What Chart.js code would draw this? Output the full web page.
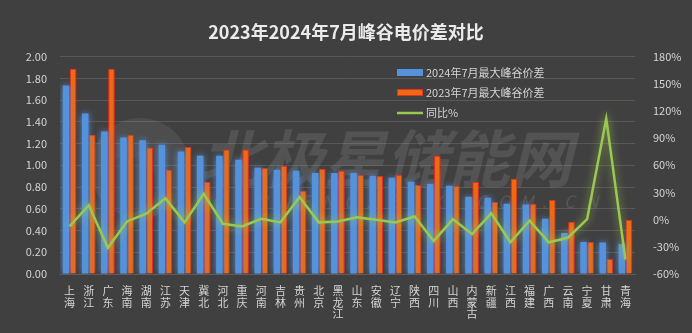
<!DOCTYPE html>
<html>
<head>
<meta charset="utf-8">
<script src="https://cdn.jsdelivr.net/npm/chart.js@4/dist/chart.umd.min.js"></script>
<style>
  html, body { margin: 0; padding: 0; background: #404040; }
  #wrap { width: 692px; height: 333px; }
</style>
</head>
<body>
<div id="wrap"><canvas id="chart" width="692" height="333"></canvas></div>
<script>
// provinces, in descending order of the 2024 spread
const provinces = ['上海', '浙江', '广东', '海南', '湖南', '江苏', '天津', '冀北', '河北', '重庆',
  '河南', '吉林', '贵州', '北京', '黑龙江', '山东', '安徽', '辽宁', '陕西', '四川',
  '山西', '内蒙古', '新疆', '江西', '福建', '广西', '云南', '宁夏', '甘肃', '青海'];

// max peak-valley spread, yuan/kWh
const spread2024 = [1.735, 1.477, 1.311, 1.255, 1.231, 1.19, 1.126, 1.089, 1.089, 1.052,
  0.978, 0.96, 0.951, 0.929, 0.929, 0.929, 0.905, 0.886, 0.849, 0.828,
  0.812, 0.711, 0.702, 0.646, 0.64, 0.508, 0.378, 0.295, 0.29, 0.277];
const spread2023 = [1.889, 1.28, 1.889, 1.28, 1.163, 0.96, 1.169, 0.846, 1.145, 1.145,
  0.975, 0.997, 0.766, 0.969, 0.951, 0.911, 0.902, 0.911, 0.818, 1.089,
  0.812, 0.846, 0.662, 0.877, 0.646, 0.68, 0.48, 0.295, 0.137, 0.498];

// year-on-year change, %
const yoyChange = [-7.5, 16, -31, -2, 6.5, 23.5, -3, 28.5, -4.5, -7.5,
  1, -3, 25, -3, -2, 2.5, 0, -3, 3.5, -23.5,
  0.5, -16, 7, -25, -1, -25, -20, 0.5, 111.5, -44];

const leftTicks = { min: 0, max: 2, step: 0.2 };
const rightTicks = { min: -60, max: 180, step: 30 };

const BLUE = '#5592dc';
const ORANGE = '#ee6a0f';
const GREEN = '#9bc850';
const TEXT = '#d4d4d4';
const FONT = "'Noto Sans CJK SC', 'Noto Sans', sans-serif";

// stack each province name vertically, one character per line
const labels = provinces.map(p => p.split(''));

const glow = {
  id: 'glow',
  beforeDatasetDraw(chart, args) {
    const ds = chart.data.datasets[args.index];
    const ctx = chart.ctx;
    ctx.save();
    ctx.shadowColor = ds.glowColor;
    ctx.shadowBlur = ds.glowBlur;
  },
  afterDatasetDraw(chart) {
    chart.ctx.restore();
  }
};

const watermark = {
  id: 'watermark',
  beforeDatasetsDraw(chart) {
    const ctx = chart.ctx;
    ctx.save();
    // round logo
    ctx.fillStyle = 'rgba(255,255,255,0.07)';
    ctx.beginPath();
    ctx.arc(140, 168, 50, 0, Math.PI * 2);
    ctx.fill();
    ctx.fillStyle = 'rgba(64,64,64,0.5)';
    ctx.beginPath();
    ctx.arc(128, 185, 28, 0, Math.PI * 2);
    ctx.fill();
    // site name
    ctx.fillStyle = 'rgba(255,255,255,0.10)';
    ctx.font = 'italic bold 62px ' + FONT;
    ctx.textBaseline = 'alphabetic';
    ctx.textAlign = 'left';
    ctx.fillText('北极星储能网', 200, 182);
    ctx.font = 'italic 17px ' + FONT;
    ctx.fillStyle = 'rgba(255,255,255,0.11)';
    const url = 'CHUNENG.BJX.COM.CN';
    let x = 212;
    for (const ch of url) {
      ctx.fillText(ch, x, 208);
      x += 22;
    }
    ctx.restore();
  }
};

const legendBox = {
  id: 'legendBox',
  afterDraw(chart) {
    const ctx = chart.ctx;
    const x0 = 397, rows = [72.5, 92.5, 113];
    ctx.save();
    ctx.font = '11px ' + FONT;
    ctx.fillStyle = TEXT;
    ctx.textBaseline = 'middle';
    chart.data.datasets.forEach((ds, i) => {
      const y = rows[i];
      if (ds.type === 'line') {
        ctx.strokeStyle = ds.borderColor;
        ctx.lineWidth = 2.5;
        ctx.beginPath();
        ctx.moveTo(x0, y);
        ctx.lineTo(x0 + 26, y);
        ctx.stroke();
      } else {
        ctx.fillStyle = ds.backgroundColor;
        ctx.fillRect(x0, y - 3.5, 26, 7);
        if (ds.borderColor && ds.borderWidth) {
          ctx.strokeStyle = ds.borderColor;
          ctx.lineWidth = 1;
          ctx.strokeRect(x0 + 0.5, y - 3, 25, 6);
        }
      }
      ctx.fillStyle = TEXT;
      ctx.fillText(ds.label, x0 + 29, y);
    });
    ctx.restore();
  }
};

new Chart(document.getElementById('chart'), {
  data: {
    labels: labels,
    datasets: [
      {
        type: 'bar',
        label: '2024年7月最大峰谷价差',
        data: spread2024,
        backgroundColor: BLUE,
        glowColor: 'rgba(90,150,230,0.9)',
        glowBlur: 6,
        yAxisID: 'y',
        order: 2,
        categoryPercentage: 0.74,
        barPercentage: 0.92
      },
      {
        type: 'bar',
        label: '2023年7月最大峰谷价差',
        data: spread2023,
        backgroundColor: ORANGE,
        borderColor: '#e0302a',
        borderWidth: 1,
        glowColor: 'rgba(235,40,30,0.9)',
        glowBlur: 6,
        yAxisID: 'y',
        order: 2,
        categoryPercentage: 0.74,
        barPercentage: 0.92
      },
      {
        type: 'line',
        label: '同比%',
        data: yoyChange,
        borderColor: GREEN,
        borderWidth: 2.5,
        pointRadius: 0,
        tension: 0,
        glowColor: 'rgba(160,210,80,0.8)',
        glowBlur: 8,
        yAxisID: 'y1',
        order: 1
      }
    ]
  },
  options: {
    responsive: false,
    devicePixelRatio: 1,
    animation: false,
    layout: { padding: { top: 0, left: 0, right: 0, bottom: 0 } },
    plugins: {
      legend: { display: false },
      tooltip: { enabled: false },
      title: {
        display: true,
        text: '2023年2024年7月峰谷电价差对比',
        color: '#ebebeb',
        font: { family: FONT, size: 18, weight: 'bold' },
        padding: { top: 21, bottom: 14 }
      }
    },
    scales: {
      x: {
        grid: { display: false },
        border: { color: '#5c5c5c' },
        ticks: {
          color: TEXT,
          font: { family: FONT, size: 11, lineHeight: 1.05 },
          maxRotation: 0,
          minRotation: 0,
          autoSkip: false,
          padding: 3
        },
        afterFit(scale) { scale.height = 59; }
      },
      y: {
        position: 'left',
        min: leftTicks.min,
        max: leftTicks.max,
        grid: { color: '#585858', drawTicks: false },
        border: { display: false },
        ticks: {
          stepSize: leftTicks.step,
          color: TEXT,
          font: { family: FONT, size: 11 },
          padding: 13,
          callback: v => v.toFixed(2)
        },
        afterFit(scale) { scale.width = 60; }
      },
      y1: {
        position: 'right',
        min: rightTicks.min,
        max: rightTicks.max,
        grid: { display: false },
        border: { display: false },
        ticks: {
          stepSize: rightTicks.step,
          color: TEXT,
          font: { family: FONT, size: 11 },
          padding: 10,
          callback: v => v + '%'
        },
        afterFit(scale) { scale.width = 57; }
      }
    }
  },
  plugins: [watermark, glow, legendBox]
});
</script>
</body>
</html>
